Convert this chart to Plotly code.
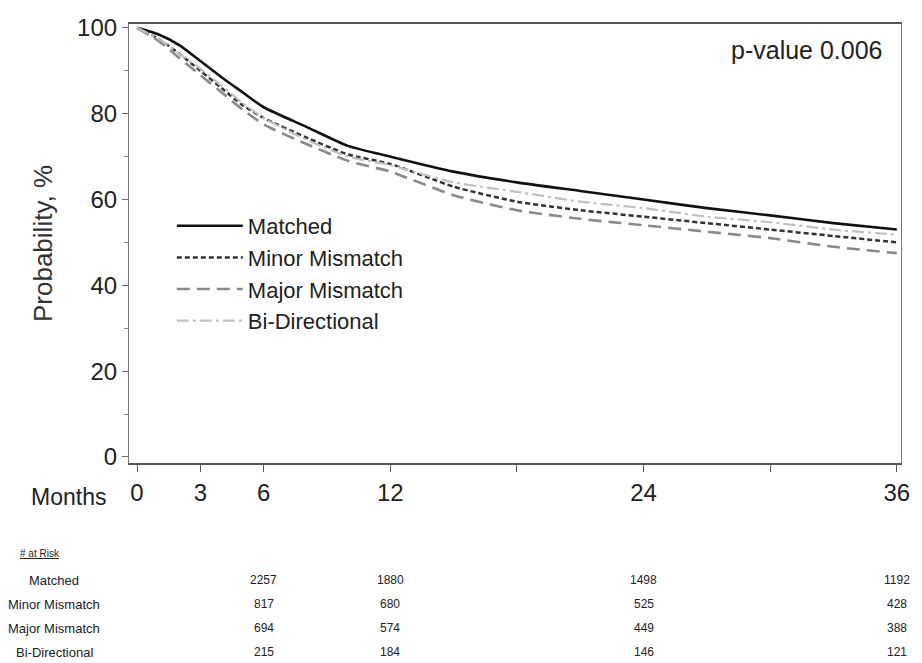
import plotly.graph_objects as go

months = [0, 1, 2, 3, 4, 5, 6, 8, 10, 12, 15, 18, 21, 24, 27, 30, 33, 36]
matched = [100, 98.5, 96, 92.3, 88.5, 85, 81.5, 77, 72.5, 70, 66.5, 64, 62, 60, 58, 56.3, 54.5, 53]
minor = [100, 97.5, 94, 90, 86, 82, 79, 74.5, 70.5, 68.3, 63, 59.5, 57.5, 56, 54.5, 53, 51.5, 50]
major = [100, 97, 93, 89, 85, 81, 77.5, 73, 69, 66.5, 61, 57.5, 55.5, 54, 52.5, 51, 49, 47.5]
bidir = [100, 97.5, 94, 90.5, 86.5, 82.5, 79, 74, 70, 68, 64, 61.8, 59.5, 58, 56, 54.7, 53, 51.8]

series_names = ["Matched", "Minor Mismatch", "Major Mismatch", "Bi-Directional"]
risk_months = [6, 12, 24, 36]
risk_counts = {
    "Matched": [2257, 1880, 1498, 1192],
    "Minor Mismatch": [817, 680, 525, 428],
    "Major Mismatch": [694, 574, 449, 388],
    "Bi-Directional": [215, 184, 146, 121],
}
xtick_vals = [0, 3, 6, 12, 18, 24, 30, 36]
xtick_text = ["0", "3", "6", "12", "", "24", "", "36"]
ytick_vals = [0, 20, 40, 60, 80, 100]

styles = [
    dict(color="#111111", width=2.6, dash="solid"),
    dict(color="#333333", width=2.5, dash="5px,3px"),
    dict(color="#8a8a8a", width=2.6, dash="13px,7px"),
    dict(color="#c0c0c0", width=2.2, dash="12px,4px,3px,4px"),
]

W, H = 922, 663
L, R, T, B = 129, 18, 24, 200
PW, PH = W - L - R, H - T - B

def px_x(p):
    return (p - L) / PW

def px_y(p):
    return (H - B - p) / PH

fig = go.Figure()
for name, ys, st in zip(series_names, [matched, minor, major, bidir], styles):
    fig.add_trace(go.Scatter(x=months, y=ys, mode="lines", name=name,
                             line=dict(color=st["color"], width=st["width"], dash=st["dash"],
                                       shape="spline", smoothing=0.6)))

font_main = "Liberation Sans, Arial, sans-serif"
txt = "#222222"

fig.update_layout(
    width=W, height=H,
    margin=dict(l=L, r=R, t=T, b=B, pad=0),
    paper_bgcolor="white", plot_bgcolor="white",
    font=dict(family=font_main, color=txt),
    showlegend=True,
    legend=dict(x=px_x(172), y=px_y(205), xanchor="left", yanchor="top",
                bgcolor="rgba(0,0,0,0)", font=dict(size=22, color=txt),
                itemwidth=66, tracegroupgap=0),
    xaxis=dict(range=[-0.38, 36.2], tickmode="array", tickvals=xtick_vals, ticktext=xtick_text,
               showgrid=False, zeroline=False, showline=True, linecolor="#555555", linewidth=1.5,
               mirror=True, ticks="outside", ticklen=7, tickcolor="#555555",
               tickfont=dict(size=24, color=txt)),
    yaxis=dict(range=[-1.4, 100.9], tickmode="array", tickvals=ytick_vals,
               showgrid=False, zeroline=False, showline=True, linecolor="#777777", linewidth=1.2,
               mirror=True, ticks="outside", ticklen=6, tickcolor="#666666",
               tickfont=dict(size=24, color=txt),
               minor=dict(tickvals=[10, 30, 50, 70, 90], ticks="outside", ticklen=4, tickcolor="#888888"),
               title=dict(text="Probability, %", font=dict(size=26, color="#333333"), standoff=16)),
)

ann = []
ann.append(dict(text="p-value 0.006", x=px_x(888), y=px_y(50), xref="paper", yref="paper",
                xanchor="right", yanchor="middle", showarrow=False, font=dict(size=25, color=txt)))
ann.append(dict(text="Months", x=px_x(108), y=px_y(497), xref="paper", yref="paper",
                xanchor="right", yanchor="middle", showarrow=False, font=dict(size=23, color=txt)))
ann.append(dict(text="<u>#&nbsp;at&nbsp;Risk</u>", x=px_x(40), y=px_y(553), xref="paper", yref="paper",
                xanchor="center", yanchor="middle", showarrow=False, font=dict(size=10, color=txt)))
row_y = [580, 604, 628, 652]
for name, yy in zip(series_names, row_y):
    ann.append(dict(text=name, x=px_x(54), y=px_y(yy), xref="paper", yref="paper",
                    xanchor="center", yanchor="middle", showarrow=False,
                    font=dict(size=13, color=txt)))
    for m, c in zip(risk_months, risk_counts[name]):
        ann.append(dict(text=str(c), x=m, y=px_y(yy), xref="x", yref="paper",
                        xanchor="center", yanchor="middle", showarrow=False,
                        font=dict(size=12, color=txt)))
fig.update_layout(annotations=ann)

fig.write_html("out.html", config={"displayModeBar": False},
               post_script="document.body.style.margin='0';document.body.style.overflow='hidden';")
